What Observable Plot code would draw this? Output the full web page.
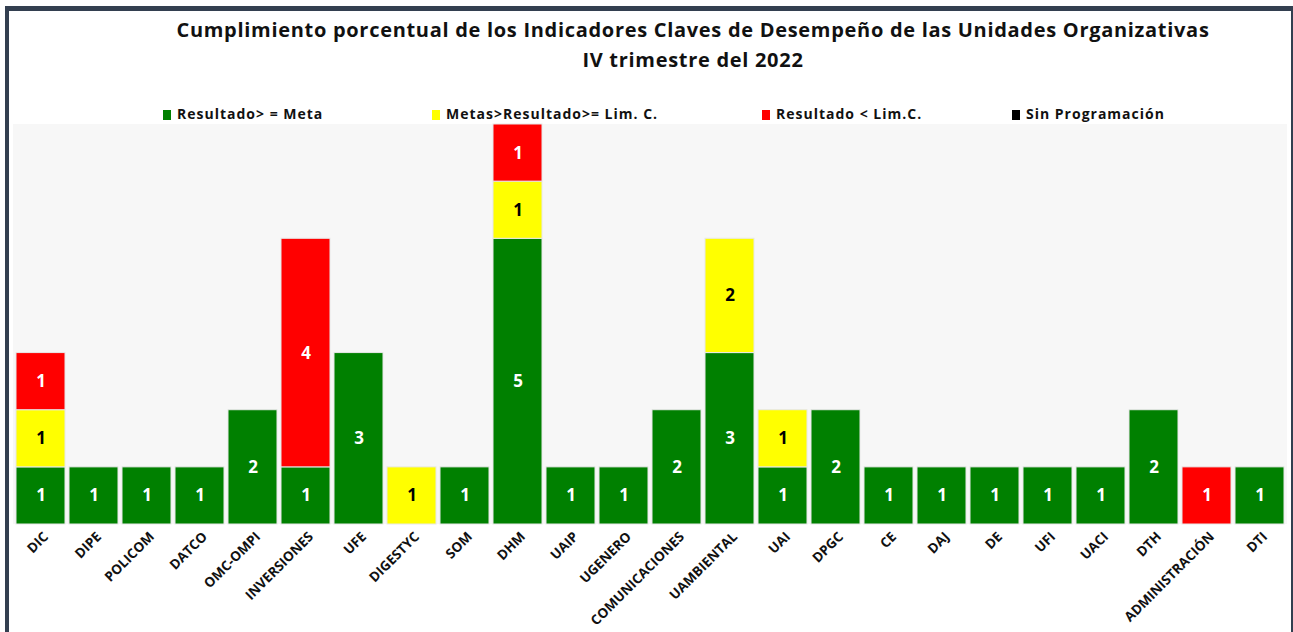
<!DOCTYPE html>
<html>
<head>
<meta charset="utf-8">
<script src="https://cdn.jsdelivr.net/npm/d3@7"></script>
<script src="https://cdn.jsdelivr.net/npm/@observablehq/plot@0.6"></script>
<style>
  html, body { margin: 0; padding: 0; background: #fff; width: 1293px; height: 632px; overflow: hidden; }
  #frame { position: absolute; left: 5px; top: 6px; width: 1282px; height: 640px;
           border-top: 5px solid #333f50; border-left: 4px solid #333f50; border-right: 3px solid #333f50; }
  #title { position: absolute; left: 0; width: 1386px; top: 15px; text-align: center;
           font: bold 20px "Open Sans", sans-serif; letter-spacing: 0.7px; line-height: 30px; color: #111; }
  #legend { position: absolute; top: 104px; left: 0; width: 1293px; height: 20px;
            font: bold 14px "Open Sans", sans-serif; letter-spacing: 1px; color: #111; }
  .lg { position: absolute; top: 0; white-space: nowrap; }
  .sw { display: inline-block; width: 8px; height: 10px; margin-right: 6px; vertical-align: -1px; }
  #bg { position: absolute; left: 13px; top: 124px; width: 1274px; height: 400px; background: #f7f7f7; }
  #chart { position: absolute; left: 0; top: 110px; }
</style>
</head>
<body>
<div id="frame"></div>
<div id="title">Cumplimiento porcentual de los Indicadores Claves de Desempeño de las Unidades Organizativas<br>IV trimestre del 2022</div>
<div id="legend"></div>
<div id="bg"></div>
<div id="chart"></div>
<script>
const categories = ["DIC","DIPE","POLICOM","DATCO","OMC-OMPI","INVERSIONES","UFE","DIGESTYC","SOM","DHM","UAIP","UGENERO","COMUNICACIONES","UAMBIENTAL","UAI","DPGC","CE","DAJ","DE","UFI","UACI","DTH","ADMINISTRACIÓN","DTI"];
const seriesNames = ["Resultado> = Meta","Metas>Resultado>= Lim. C.","Resultado < Lim.C.","Sin Programación"];
const seriesColors = ["#008000","#ffff00","#ff0000","#000000"];
const labelColors = ["#ffffff","#000000","#ffffff","#ffffff"];
const cumple   = [1,1,1,1,2,1,3,0,1,5,1,1,2,3,1,2,1,1,1,1,1,2,0,1];
const limite   = [1,0,0,0,0,0,0,1,0,1,0,0,0,2,1,0,0,0,0,0,0,0,0,0];
const noCumple = [1,0,0,0,0,4,0,0,0,1,0,0,0,0,0,0,0,0,0,0,0,0,1,0];
const sinProg  = [0,0,0,0,0,0,0,0,0,0,0,0,0,0,0,0,0,0,0,0,0,0,0,0];

const seriesValues = [cumple, limite, noCumple, sinProg];
const rows = [];
categories.forEach((c, i) => {
  seriesValues.forEach((vals, s) => {
    if (vals[i] > 0) rows.push({unit: c, series: seriesNames[s], value: vals[i], lc: labelColors[s]});
  });
});

// legend
const legendX = [163, 432, 762, 1012];
const lg = document.getElementById("legend");
seriesNames.forEach((n, i) => {
  const d = document.createElement("div");
  d.className = "lg";
  d.style.left = legendX[i] + "px";
  d.innerHTML = `<span class="sw" style="background:${seriesColors[i]}"></span>${n}`;
  lg.appendChild(d);
});

const chart = Plot.plot({
  width: 1293,
  height: 522,
  marginTop: 14,
  marginBottom: 108,
  marginLeft: 12,
  marginRight: 5,
  style: {background: "transparent", fontFamily: "'Open Sans', sans-serif"},
  x: {domain: categories, padding: 0.075, label: null},
  y: {domain: [0, 7], axis: null},
  color: {domain: seriesNames, range: seriesColors},
  marks: [
    Plot.barY(rows, Plot.stackY({x: "unit", y: "value", z: "series", fill: "series", stroke: "#e8e8e8", strokeWidth: 1, order: seriesNames})),
    Plot.text(rows, Plot.stackY({x: "unit", y: "value", z: "series", text: d => String(d.value), fill: "lc", order: seriesNames, fontSize: 17, fontWeight: "bold"})),
    Plot.axisX({tickRotate: -45, tickSize: 0, tickPadding: 10, fontSize: 13.5, fontWeight: "bold", fill: "#111", label: null, dx: 5})
  ]
});
document.getElementById("chart").appendChild(chart);
</script>
</body>
</html>
